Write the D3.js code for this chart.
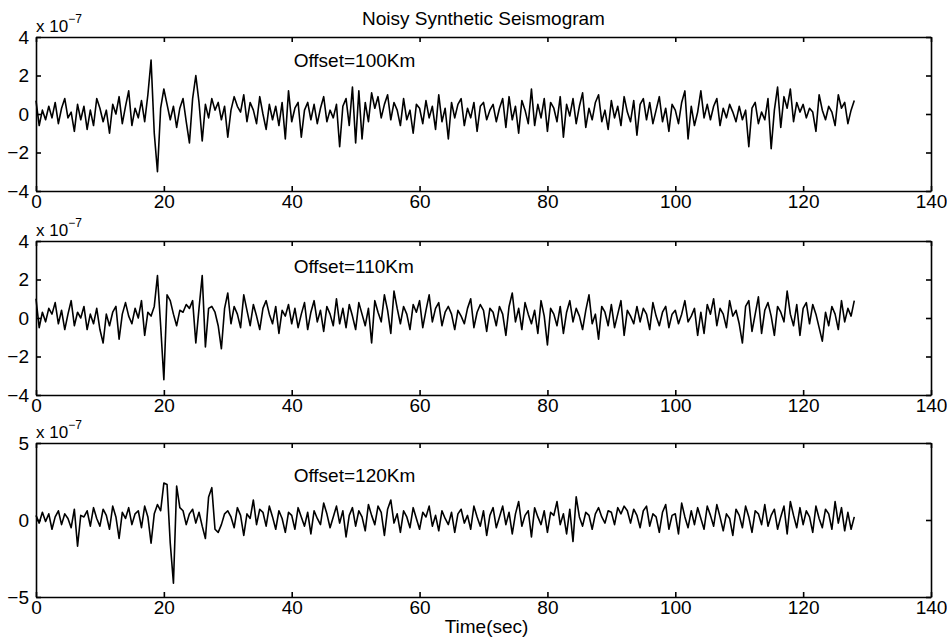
<!DOCTYPE html>
<html>
<head>
<meta charset="utf-8">
<script src="https://cdn.jsdelivr.net/npm/d3@7/dist/d3.min.js"></script>
<style>
  body { margin: 0; background: #fff; }
  svg text { font-family: "Liberation Sans", Arial, sans-serif; fill: #000; }
</style>
</head>
<body>
<svg id="chart" width="947" height="639"></svg>
<script>
// samples every 0.5 s from 0 to 128 s, amplitude in units of 1e-7
var dt = 0.5;
var trace100 = [
  0.7,-0.6,0.2,-0.3,0.4,-0.2,0.6,-0.5,0.3,0.8,-0.2,0.1,-0.9,0.5,-0.3,0.4,-0.8,0.2,-0.6,0.8,
  0.3,-0.4,0.2,-1.0,0.5,0.0,0.9,-0.5,0.4,1.2,-0.6,0.3,-0.2,0.7,-0.4,1.0,2.8,-1.0,-3.0,0.3,
  1.3,0.5,-0.3,0.4,-0.7,0.3,0.8,-0.4,-1.5,0.8,2.0,0.6,-1.4,0.5,-0.2,0.8,0.2,0.6,-0.3,0.4,
  -1.2,0.2,0.9,0.4,0.1,1.0,-0.4,0.6,0.2,-0.5,0.9,0.0,-0.8,0.5,-0.3,0.4,-0.6,0.6,-1.3,1.2,
  -0.4,0.3,0.6,-1.2,0.2,0.6,-0.3,0.5,-0.5,0.3,0.9,-0.4,0.2,-0.2,0.5,-1.7,0.4,0.8,-0.6,1.4,
  -1.5,1.2,-1.3,0.6,-0.4,1.1,0.3,0.9,-0.2,0.5,1.0,-0.3,0.6,0.2,-0.6,0.8,-0.3,0.2,-1.0,0.5,
  0.3,-0.5,0.7,-0.2,0.4,-0.8,1.0,-0.4,0.3,-1.3,0.6,-0.2,0.5,0.8,-0.6,0.3,-0.2,0.6,-0.9,0.4,
  0.6,-0.3,0.2,0.5,-0.4,0.3,0.8,-0.7,0.9,-0.3,0.4,-1.0,0.7,0.2,-0.5,1.3,-0.6,0.5,-0.2,0.8,
  -0.9,0.6,0.3,-0.4,0.9,-1.2,0.5,-0.1,0.8,-0.5,0.4,1.1,-0.7,0.3,-0.3,0.6,1.0,-0.4,0.2,-0.8,
  0.7,-0.2,0.4,-0.6,0.9,0.1,-0.4,0.7,-1.1,0.5,0.8,-0.3,0.6,-0.5,0.2,0.9,-0.4,0.3,-0.9,0.5,
  0.2,-0.5,0.6,1.2,-1.3,0.4,-0.6,0.1,1.2,-0.2,0.5,-0.3,0.4,0.8,-0.6,0.3,-0.2,0.5,0.1,-0.4,
  0.4,-0.3,0.2,-1.7,0.3,0.6,-0.5,0.1,-0.3,0.8,-1.8,0.2,1.4,-0.7,0.9,0.3,1.3,-0.4,0.6,0.1,
  0.5,-0.2,0.3,0.1,-0.9,1.0,0.2,-0.3,0.4,0.1,-0.6,1.0,0.3,0.6,-0.5,0.2,0.7
];
var trace110 = [
  1.0,-0.5,0.3,-0.2,0.5,0.2,0.8,-0.3,0.4,-0.6,0.2,0.9,-0.4,0.3,0.0,0.6,-0.6,0.2,-0.3,0.5,
  -0.6,-1.3,0.2,-0.4,0.3,0.6,-1.1,0.2,0.8,0.1,-0.3,0.5,0.0,0.9,-0.9,0.3,0.1,0.6,2.2,-0.4,
  -3.2,1.2,0.9,0.2,-0.4,0.4,0.3,0.7,0.5,0.9,-1.3,0.5,2.2,-1.5,0.5,0.6,0.3,-0.4,-1.6,0.5,
  1.3,-0.3,0.6,0.2,-0.5,1.2,0.4,-0.4,0.7,0.1,-0.6,0.5,0.9,0.2,-0.3,0.6,-0.8,0.4,0.1,0.7,
  -0.3,0.5,-0.5,0.2,0.8,-0.6,0.3,0.9,-0.2,0.4,-0.7,0.6,0.2,-0.4,1.0,-0.3,0.5,-0.5,0.7,0.1,
  -0.6,0.8,0.2,-0.4,0.5,-1.3,0.9,0.3,-0.2,1.2,0.4,-0.8,1.4,0.5,-0.3,0.6,0.2,-0.6,0.7,0.3,
  0.9,-0.5,0.4,1.2,-0.2,0.5,0.8,-0.4,0.3,0.6,0.2,-0.6,0.4,0.1,-0.3,0.5,1.0,-0.5,0.3,0.7,
  0.4,-0.7,0.5,0.3,-0.4,0.6,0.2,-0.9,0.6,1.3,-0.2,0.5,-0.6,0.8,0.2,-0.3,0.4,-0.8,0.9,0.1,
  -1.4,0.5,0.2,-0.4,0.6,-0.8,0.3,0.9,-0.2,0.5,0.1,-0.6,0.4,1.2,-0.3,0.2,-1.1,0.6,0.3,-0.4,
  0.7,-0.5,0.2,0.9,-0.9,0.4,0.1,-0.3,0.6,-0.2,0.5,0.2,-0.6,0.8,0.1,-0.4,0.3,0.6,-0.5,0.2,
  0.4,-0.3,0.2,0.9,-0.2,0.1,0.5,-0.9,0.3,-0.8,0.7,0.2,1.0,-0.4,0.5,0.2,-0.5,0.9,0.1,0.4,
  -0.3,-1.3,0.6,0.9,-0.7,0.2,1.1,-0.8,0.4,0.8,0.1,-0.9,0.6,0.3,-0.2,1.4,0.2,-0.4,0.7,-0.9,
  0.5,0.8,-0.3,0.7,0.2,-0.5,-1.2,0.3,-0.4,0.6,0.2,-0.6,0.9,-0.2,0.5,0.1,0.9
];
var trace120 = [
  0.3,-0.2,0.5,-0.1,0.4,-0.6,0.2,0.6,-0.3,0.4,0.1,-0.5,0.7,-1.7,0.3,0.2,0.6,-0.4,0.8,0.1,
  -0.4,0.7,0.3,-0.6,0.9,0.2,-1.2,0.5,0.1,0.8,-0.3,0.4,0.6,-0.5,0.9,0.2,-1.5,0.4,1.0,0.6,
  2.4,2.3,-1.5,-4.1,2.2,0.8,0.6,-0.3,0.4,0.7,-0.2,0.5,-0.4,-1.2,1.5,2.1,-0.6,-0.8,-0.3,0.4,
  0.6,0.2,-0.5,0.8,0.3,-1.0,0.4,0.1,1.3,-0.3,0.7,0.5,-0.4,0.9,0.2,-0.6,0.6,0.1,-0.8,0.5,
  0.3,-0.6,0.8,0.2,-0.4,0.5,-0.9,0.6,0.1,-0.3,1.1,0.4,-0.5,0.2,0.9,-0.2,0.6,-1.1,0.3,0.8,
  -0.4,0.6,0.2,-0.7,1.0,0.3,-0.3,0.9,0.5,-1.0,0.7,1.3,-0.2,0.4,-0.8,0.6,0.2,-0.5,0.8,0.1,
  -0.6,0.5,0.2,0.9,-0.4,0.3,-0.7,0.6,0.1,-0.3,0.5,-0.8,0.4,0.7,-0.2,0.3,-0.6,0.9,0.2,-0.4,
  0.6,-1.0,0.3,0.8,-0.5,0.2,0.9,-0.3,0.5,-0.9,0.4,1.2,-0.4,0.3,0.6,-1.1,0.8,0.2,-0.3,0.6,
  -0.8,0.5,0.3,1.2,-0.3,0.4,-0.9,0.7,-1.4,1.5,0.2,-0.4,0.5,0.3,-0.6,0.4,0.8,0.2,-0.2,0.6,
  0.5,-0.3,0.8,0.4,0.9,0.6,-0.2,0.7,0.3,-0.5,0.6,0.9,-0.4,0.4,0.2,-0.8,0.5,1.0,-0.6,0.3,
  0.4,-0.9,1.1,0.2,-0.5,0.6,-0.3,0.8,0.1,-0.6,0.9,0.3,-0.4,1.0,0.2,-0.7,0.4,0.1,-1.0,0.7,
  0.3,-0.5,0.9,0.2,-0.8,0.6,0.4,-0.3,1.0,-0.4,0.3,0.7,-0.6,0.2,0.9,-0.9,1.2,0.3,-0.5,0.8,
  -0.3,0.6,0.2,-0.8,0.9,0.1,-0.5,0.7,0.4,-0.6,1.2,-0.2,0.8,-0.7,0.5,-0.6,0.2
];
var offsets = ["Offset=100Km", "Offset=110Km", "Offset=120Km"];
var offsetY = [2.8, 2.7, 2.9];
var yLimits = [[-4, 4], [-4, 4], [-5, 5]];
var yTicks = [[-4, -2, 0, 2, 4], [-4, -2, 0, 2, 4], [-5, 0, 5]];
var xTicks = [0, 20, 40, 60, 80, 100, 120, 140];
var traces = [trace100, trace110, trace120];

var svg = d3.select("#chart");
var left = 36, right = 931;
var tops = [37, 241, 443], h = 154;
var fs = "19px";

var x = d3.scaleLinear().domain([0, 140]).range([left, right]);

svg.append("text")
    .attr("x", (left + right) / 2).attr("y", 25)
    .attr("text-anchor", "middle")
    .style("font-size", fs)
    .text("Noisy Synthetic Seismogram");

traces.forEach(function(tr, i) {
  var top = tops[i];
  var y = d3.scaleLinear().domain(yLimits[i]).range([top + h, top]);
  var g = svg.append("g");

  var line = d3.line()
      .x(function(d, k) { return x(k * dt); })
      .y(function(d) { return y(d); });

  g.append("path")
      .datum(tr)
      .attr("d", line)
      .attr("fill", "none")
      .attr("stroke", "#000")
      .attr("stroke-width", 1.6)
      .attr("stroke-linejoin", "round");

  // MATLAB style box: ticks point inward on all four sides
  var xb = g.append("g").attr("transform", "translate(0," + (top + h) + ")")
      .call(d3.axisBottom(x).tickValues(xTicks).tickSizeInner(-5).tickSizeOuter(0).tickPadding(3));
  var xt = g.append("g").attr("transform", "translate(0," + top + ")")
      .call(d3.axisTop(x).tickValues(xTicks).tickSizeInner(-5).tickSizeOuter(0).tickFormat(""));
  var yl = g.append("g").attr("transform", "translate(" + left + ",0)")
      .call(d3.axisLeft(y).tickValues(yTicks[i]).tickSizeInner(-5).tickSizeOuter(0).tickPadding(7)
            .tickFormat(function(d) { return d < 0 ? "\u2212" + Math.abs(d) : d; }));
  var yr = g.append("g").attr("transform", "translate(" + right + ",0)")
      .call(d3.axisRight(y).tickValues(yTicks[i]).tickSizeInner(-5).tickSizeOuter(0).tickFormat(""));

  [xb, xt, yl, yr].forEach(function(a) {
    a.select(".domain").attr("stroke", "#000").attr("stroke-width", 1.6);
    a.selectAll(".tick line").attr("stroke", "#000").attr("stroke-width", 1.6);
    a.selectAll("text").style("font-size", fs).attr("fill", "#000")
      .style("font-family", "'Liberation Sans', Arial, sans-serif");
  });

  // exponent label
  var ex = g.append("text")
      .attr("x", left).attr("y", top - 5)
      .style("font-size", "17px");
  ex.append("tspan").text("x 10");
  ex.append("tspan").attr("dy", -9).style("font-size", "12px").text("\u22127");

  g.append("text")
      .attr("x", x(40.3))
      .attr("y", y(offsetY[i]))
      .attr("dominant-baseline", "central")
      .style("font-size", fs)
      .text(offsets[i]);
});

svg.append("text")
    .attr("x", (left + right) / 2 + 3).attr("y", 633)
    .attr("text-anchor", "middle")
    .style("font-size", fs)
    .text("Time(sec)");
</script>
</body>
</html>
